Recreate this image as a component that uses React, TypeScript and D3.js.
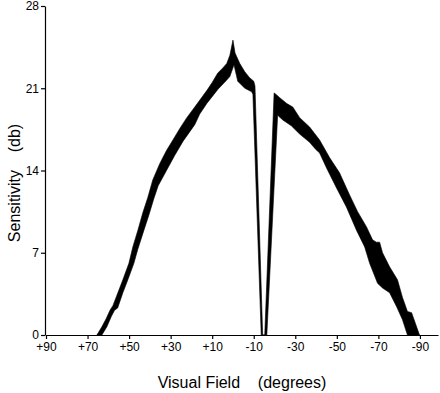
import React, { useRef, useEffect } from 'react';
import * as d3 from 'd3';

// upper bound of the band (degrees of visual field, sensitivity dB)
const upperDeg = [65.5, 63.1, 61, 59.2, 57.8, 55.4, 53.0, 50.1, 48.2, 45.8, 43.4, 41.0, 38.6, 35.2, 32, 28.9, 25.5, 22.2, 18.4, 15.5, 12.6, 10, 7.3, 5, 3.0, 1.5, 0, -1, -3.3, -5.7, -8, -10.0, -10.6, -14.3, -15.3, -19.8, -20.6, -22.5, -25.9, -28.8, -32.1, -36.9, -41.7, -46.5, -51.3, -56.2, -60.0, -64.3, -67.2, -69, -70.6, -72.0, -75.4, -79.2, -81.6, -84.0, -86.0, -89.8];
const upperDb = [0, 0.7, 1.4, 2.1, 2.5, 3.6, 4.7, 6.1, 7.5, 8.9, 10.4, 11.7, 13.2, 14.6, 15.7, 16.6, 17.6, 18.5, 19.4, 20.1, 20.8, 21.5, 22.3, 22.7, 23.1, 23.8, 25.1, 24.0, 23.1, 22.4, 21.9, 21.6, 21.2, 0, 0, 20.6, 20.5, 20.2, 19.7, 19.4, 18.5, 17.7, 16.6, 15.1, 13.8, 11.9, 10.5, 9.2, 8.1, 7.9, 7.9, 7.0, 5.8, 4.7, 3.2, 2.0, 1.9, 0];

// lower bound of the band
const lowerDeg = [63.1, 60.7, 58.5, 57, 55.5, 53.0, 50.6, 47.7, 45.8, 42.9, 40.5, 38.1, 36, 32, 28, 24, 20, 18.4, 16, 12.6, 7.3, 3, 1.5, -0.5, -2.3, -5.7, -9.0, -9.6, -13.6, -16.3, -21.5, -24, -28.1, -32.1, -36.9, -39.8, -41.7, -45.1, -49.9, -54.6, -59.5, -63.4, -65.8, -69.6, -72, -75.4, -78.8, -81.6, -84.0];
const lowerDb = [0, 0.7, 1.6, 2.1, 2.3, 3.6, 4.7, 6.1, 7.3, 8.9, 10.2, 11.6, 12.7, 14.0, 15.3, 16.5, 17.5, 17.9, 18.8, 19.7, 20.9, 21.7, 22.0, 23.0, 21.6, 21.0, 20.7, 20.5, 0, 0, 18.7, 18.3, 17.8, 17.1, 16.4, 15.8, 15.5, 14.2, 12.5, 10.9, 8.9, 7.5, 6.1, 4.4, 4.0, 3.6, 2.4, 1.3, 0];

const xTicks = [90, 70, 50, 30, 10, -10, -30, -50, -70, -90];
const yTicks = [0, 7, 14, 21, 28];

const width = 440;
const height = 393;
const font = '"Liberation Sans", Arial, sans-serif';

const App = () => {
  const ref = useRef<SVGSVGElement>(null);

  useEffect(() => {
    const svg = d3.select(ref.current);
    svg.selectAll('*').remove();

    const x = d3.scaleLinear().domain([90, -98.7]).range([46, 438]);
    const y = d3.scaleLinear().domain([0, 28]).range([335, 6]);

    // band between the two bounds
    const upper = upperDeg.map((d, i) => [d, upperDb[i]] as [number, number]);
    const lower = lowerDeg.map((d, i) => [d, lowerDb[i]] as [number, number]);
    const line = d3.line<[number, number]>().x(d => x(d[0])).y(d => y(d[1]));
    svg.append('path')
      .attr('d', line(upper.concat(lower.slice().reverse())) + 'Z')
      .attr('fill', '#000')
      .attr('stroke', '#000')
      .attr('stroke-width', 0.6);

    // x axis
    const gx = svg.append('g')
      .attr('transform', `translate(0,${y(0)})`)
      .call(d3.axisBottom(x).tickValues(xTicks).tickSize(4).tickPadding(3).tickSizeOuter(0)
        .tickFormat(d => (+d > 0 ? `+${d}` : `${d}`)));
    gx.selectAll('text').attr('font-size', 12).attr('font-family', font).attr('fill', '#000');

    // y axis
    const gy = svg.append('g')
      .attr('transform', `translate(45,0)`)
      .call(d3.axisLeft(y).tickValues(yTicks).tickSize(4).tickPadding(2).tickSizeOuter(0));
    gy.selectAll('text').attr('font-size', 12).attr('font-family', font).attr('fill', '#000');

    svg.selectAll('.domain, .tick line').attr('stroke', '#000').attr('stroke-width', 1.2);

    // axis titles
    svg.append('text')
      .attr('x', 242)
      .attr('y', 388)
      .attr('text-anchor', 'middle')
      .attr('font-family', font)
      .attr('font-size', 16)
      .attr('fill', '#000')
      .style('white-space', 'pre')
      .text('Visual Field    (degrees)');

    svg.append('text')
      .attr('transform', 'translate(20,183) rotate(-90)')
      .attr('text-anchor', 'middle')
      .attr('font-family', font)
      .attr('font-size', 16)
      .attr('fill', '#000')
      .style('white-space', 'pre')
      .text('Sensitivity    (db)');
  }, []);

  return (
    <svg
      ref={ref}
      width={width}
      height={height}
      style={{ position: 'absolute', left: 0, top: 0, background: '#fff' }}
    />
  );
};

export default App;
